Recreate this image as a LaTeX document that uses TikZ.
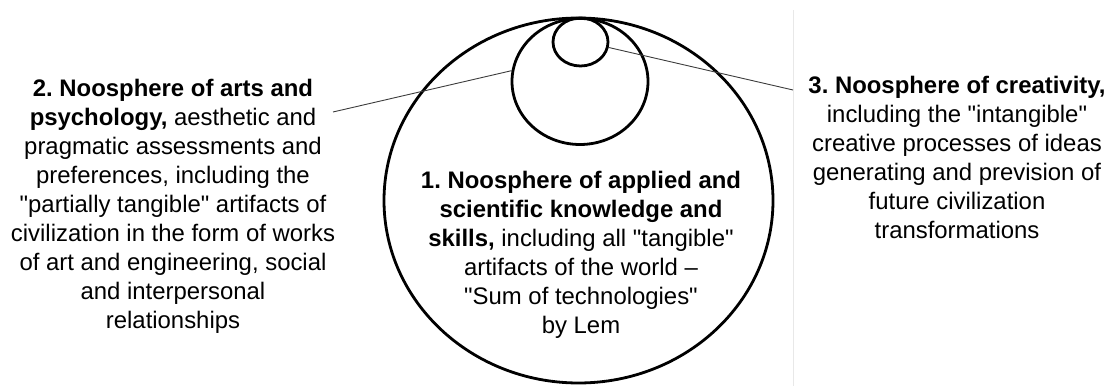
\documentclass[tikz,border=0pt]{standalone}
\usepackage{fontspec}
\setmainfont{Liberation Sans}[Ligatures=TeXOff]
\usepackage{tikz}
\usetikzlibrary{shapes}
\definecolor{ink}{RGB}{0, 0, 0}
\definecolor{wire}{RGB}{60, 60, 60}
\definecolor{rule}{RGB}{232, 232, 232}
\frenchspacing

\begin{document}
\begin{tikzpicture}[
   x=1pt, y=-1pt,
   sphere/.style={ellipse, draw=ink, line width=2.8, inner sep=0},
   caption/.style={align=center, anchor=north, inner sep=0, text=ink,
                   font=\fontsize{23.9}{29}\selectfont}
  ]

  \useasboundingbox (0, 0) rectangle (1111, 390);

  % Nested spheres
  \node (S1) at (578.5, 200.5) [sphere, minimum width=389, minimum height=365] {};
  \node (S2) at (580, 81.5) [sphere, minimum width=136, minimum height=126] {};
  \node (S3) at (580.5, 42) [sphere, minimum width=55, minimum height=48] {};

  \draw[rule, line width=0.8] (793, 10) -- (793, 386);

  % Captions
  \node (T1) at (581, 171) [caption] {\textbf{1. Noosphere of applied and}\\
    \textbf{scientific knowledge and}\\
    \textbf{skills,} including all "tangible"\\
    artifacts of the world –\\
    "Sum of technologies"\\
    by Lem};

  \node (T2) at (173, 79) [caption] {\textbf{2. Noosphere of arts and}\\
    \textbf{psychology,} aesthetic and\\
    pragmatic assessments and\\
    preferences, including the\\
    "partially tangible" artifacts of\\
    civilization in the form of works\\
    of art and engineering, social\\
    and interpersonal\\
    relationships};

  \node (T3) at (957, 76) [caption] {\textbf{3. Noosphere of creativity,}\\
    including the "intangible"\\
    creative processes of ideas\\
    generating and prevision of\\
    future civilization\\
    transformations};

  \coordinate (L) at (333, 112);
  \coordinate (R) at (793, 90);

  \foreach \B/\E in {L/S2.171, S3.-11/R} {
    \draw[wire, line width=0.9] (\B) -- (\E);
  }

\end{tikzpicture}
\end{document}
